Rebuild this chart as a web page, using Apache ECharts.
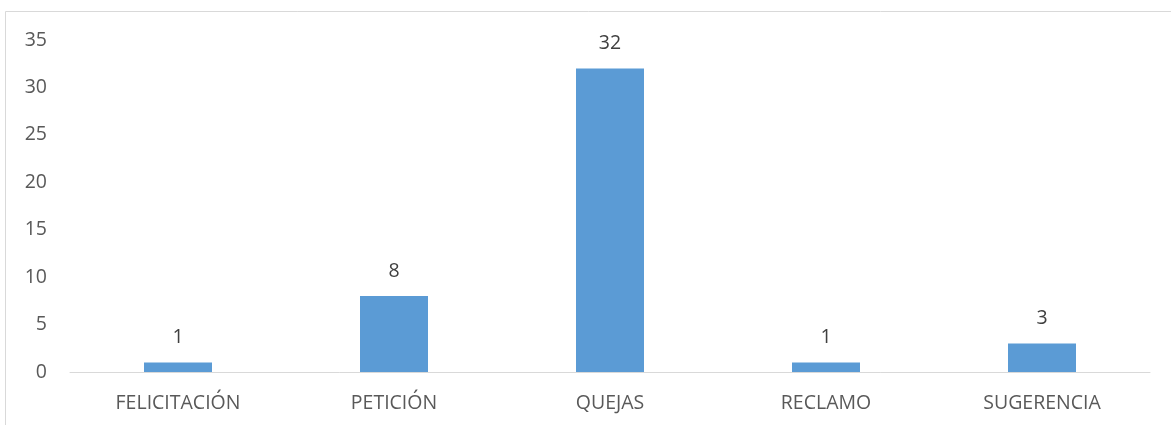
<!DOCTYPE html>
<html>
<head>
<meta charset="utf-8">
<script src="https://cdn.jsdelivr.net/npm/echarts@6/dist/echarts.min.js"></script>
<style>
  html, body { margin: 0; padding: 0; background: #fff; }
  #chart { width: 1171px; height: 425px; }
</style>
</head>
<body>
<div id="chart"></div>
<script>
const categories = ['FELICITACIÓN', 'PETICIÓN', 'QUEJAS', 'RECLAMO', 'SUGERENCIA'];
const counts = [1, 8, 32, 1, 3];
const yTicks = { min: 0, max: 35, interval: 5 };

const font = 'Open Sans';
const textColor = '#595959';

const chart = echarts.init(document.getElementById('chart'), null, { renderer: 'canvas' });
chart.setOption({
  animation: false,
  backgroundColor: '#fff',
  // frame of the original chart area (only top and left edges are in view)
  graphic: [{
    type: 'rect',
    shape: { x: 5.5, y: 11.5, width: 1300, height: 500 },
    style: { fill: 'none', stroke: '#d9d9d9', lineWidth: 1 },
    silent: true
  }],
  grid: { left: 70, right: 21, top: 40, bottom: 53, containLabel: false },
  xAxis: {
    type: 'category',
    data: categories,
    axisLine: { lineStyle: { color: '#d9d9d9', width: 1 } },
    axisTick: { show: false },
    axisLabel: { color: textColor, fontFamily: font, fontSize: 19.5, margin: 21 }
  },
  yAxis: {
    type: 'value',
    min: yTicks.min,
    max: yTicks.max,
    interval: yTicks.interval,
    axisLine: { show: false },
    axisTick: { show: false },
    splitLine: { show: false },
    axisLabel: { color: textColor, fontFamily: font, fontSize: 19.5, margin: 23 }
  },
  series: [{
    type: 'bar',
    data: counts,
    barWidth: 68,
    itemStyle: { color: '#5b9bd5' },
    label: {
      show: true,
      position: 'top',
      distance: 15,
      color: '#404040',
      fontFamily: font,
      fontSize: 19.5
    }
  }]
});
</script>
</body>
</html>
